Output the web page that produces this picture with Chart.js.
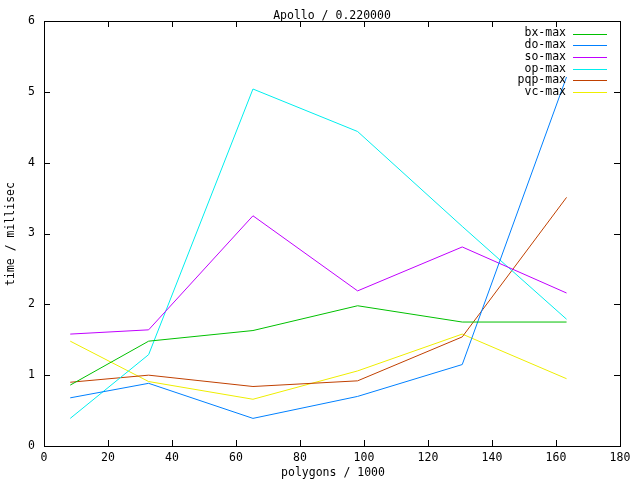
<!DOCTYPE html>
<html>
<head>
<meta charset="utf-8">
<script src="https://cdn.jsdelivr.net/npm/chart.js@4/dist/chart.umd.min.js"></script>
<style>
  html, body { margin: 0; padding: 0; background: #fff; }
  canvas { display: block; }
</style>
</head>
<body>
<canvas id="apolloChart" width="640" height="480"></canvas>
<script>
// polygon counts (thousands) and max times in ms
const polygons = [8.2, 32.7, 65.3, 98, 130.7, 163.3];
const bxMax  = [0.86, 1.48, 1.63, 1.98, 1.75, 1.75];
const doMax  = [0.68, 0.885, 0.39, 0.70, 1.15, 5.21];
const soMax  = [1.58, 1.64, 3.25, 2.19, 2.81, 2.16];
const opMax  = [0.39, 1.29, 5.04, 4.44, 3.10, 1.79];
const pqpMax = [0.90, 1.00, 0.84, 0.92, 1.54, 3.51];
const vcMax  = [1.48, 0.91, 0.66, 1.06, 1.58, 0.95];

const seriesNames  = ['bx-max', 'do-max', 'so-max', 'op-max', 'pqp-max', 'vc-max'];
const seriesValues = [bxMax, doMax, soMax, opMax, pqpMax, vcMax];
const seriesColors = ['rgb(0,192,0)', 'rgb(0,128,255)', 'rgb(192,0,255)', 'rgb(0,238,238)', 'rgb(192,64,0)', 'rgb(238,238,0)'];

const chartTitle = 'Apollo / 0.220000';
const xTitle = 'polygons / 1000';
const yTitle = 'time / millisec';

const monoFont = '11.5px "DejaVu Sans Mono", monospace';

function points(vals) {
    return polygons.map((p, i) => ({ x: p, y: vals[i] }));
}

// gnuplot-like frame: box, inward ticks on all sides, titles, key
const gnuFrame = {
    id: 'gnuFrame',
    afterDraw(chart) {
        const ctx = chart.ctx;
        const a = chart.chartArea;
        const xs = chart.scales.x;
        const ys = chart.scales.y;
        const tick = 6;
        ctx.save();
        ctx.strokeStyle = '#000';
        ctx.lineWidth = 1;
        ctx.strokeRect(a.left + 0.5, a.top + 0.5, a.right - a.left, a.bottom - a.top);

        ctx.beginPath();
        xs.ticks.forEach(t => {
            const px = Math.round(xs.getPixelForValue(t.value)) + 0.5;
            ctx.moveTo(px, a.bottom); ctx.lineTo(px, a.bottom - tick);
            ctx.moveTo(px, a.top); ctx.lineTo(px, a.top + tick);
        });
        ys.ticks.forEach(t => {
            const py = Math.round(ys.getPixelForValue(t.value)) + 0.5;
            ctx.moveTo(a.left, py); ctx.lineTo(a.left + tick, py);
            ctx.moveTo(a.right, py); ctx.lineTo(a.right - tick, py);
        });
        ctx.stroke();

        ctx.fillStyle = '#000';
        ctx.font = monoFont;
        ctx.textAlign = 'center';
        ctx.textBaseline = 'alphabetic';
        ctx.fillText(chartTitle, 332, 19);

        ctx.textBaseline = 'middle';
        ctx.fillText(xTitle, 333, 473);

        ctx.save();
        ctx.translate(11, 234);
        ctx.rotate(-Math.PI / 2);
        ctx.fillText(yTitle, 0, 0);
        ctx.restore();

        // key, top right inside the plot
        ctx.textAlign = 'right';
        chart.data.datasets.forEach((ds, i) => {
            const yy = 33.5 + i * 11.74;
            ctx.fillStyle = '#000';
            ctx.fillText(ds.label, 566, yy);
            ctx.strokeStyle = ds.borderColor;
            ctx.beginPath();
            ctx.moveTo(573, Math.round(yy) + 0.5);
            ctx.lineTo(607, Math.round(yy) + 0.5);
            ctx.stroke();
        });
        ctx.restore();
    }
};

const ctx = document.getElementById('apolloChart').getContext('2d');
const apolloChart = new Chart(ctx, {
    type: 'line',
    data: {
        datasets: seriesNames.map((name, i) => ({
            label: name,
            data: points(seriesValues[i]),
            borderColor: seriesColors[i],
            backgroundColor: seriesColors[i],
            borderWidth: 1,
            pointRadius: 0,
            tension: 0,
            fill: false
        }))
    },
    options: {
        responsive: false,
        animation: false,
        devicePixelRatio: 1,
        layout: { padding: { top: 21, right: 20, left: 0, bottom: 0 } },
        plugins: {
            legend: { display: false },
            title: { display: false },
            tooltip: { enabled: false }
        },
        scales: {
            x: {
                type: 'linear',
                min: 0,
                max: 180,
                grid: { display: false, drawTicks: false },
                border: { display: false },
                ticks: {
                    stepSize: 20,
                    padding: 5,
                    color: '#000',
                    maxRotation: 0,
                    font: { family: '"DejaVu Sans Mono", monospace', size: 11.5 }
                },
                afterFit(scale) { scale.height = 34; }
            },
            y: {
                type: 'linear',
                min: 0,
                max: 6,
                grid: { display: false, drawTicks: false },
                border: { display: false },
                ticks: {
                    stepSize: 1,
                    padding: 9,
                    color: '#000',
                    font: { family: '"DejaVu Sans Mono", monospace', size: 11.5 }
                },
                afterFit(scale) { scale.width = 44; }
            }
        }
    },
    plugins: [gnuFrame]
});
</script>
</body>
</html>
